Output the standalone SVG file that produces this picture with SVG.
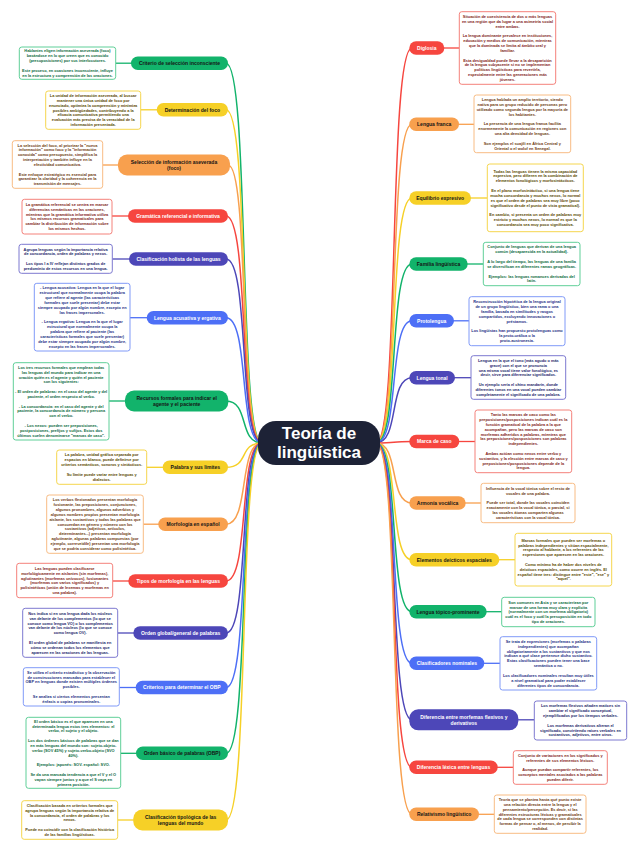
<svg xmlns="http://www.w3.org/2000/svg" width="638" height="848" viewBox="0 0 638 848">
<style>
.t{font-family:"Liberation Sans",Arial,sans-serif;font-weight:bold;text-anchor:middle}
.d{font-size:3.9px}
.n{font-size:5px}
.bx{fill:#fff;stroke-width:1}
.c{fill:none;stroke-width:1.5}
.l{fill:none;stroke-width:1.3}
.gF{fill:#12b36b}.gS{stroke:#12b36b}.gB{stroke:#5fcf98}.gT{fill:#0c6a3e}
.yF{fill:#f6d027}.yS{stroke:#f6d027}.yB{stroke:#f5d64e}.yT{fill:#5a4800}
.oF{fill:#f8a04e}.oS{stroke:#f8a04e}.oB{stroke:#f8bc84}.oT{fill:#6e3a10}
.rF{fill:#f6463f}.rS{stroke:#f6463f}.rB{stroke:#f4817b}.rT{fill:#821d18}
.iF{fill:#4d47b8}.iS{stroke:#4d47b8}.iB{stroke:#7d79d0}.iT{fill:#231f6b}
.bF{fill:#4d6ff6}.bS{stroke:#4d6ff6}.bB{stroke:#809af8}.bT{fill:#1d2f85}
.dk{fill:#151515}.wh{fill:#fff}
</style>
<rect width="638" height="848" fill="#fff"/>
<g id="connectors">
<path class="c gS" d="M226,63.2 C250,63.2 238,443 262,443"/>
<path class="c yS" d="M226,109.8 C250,109.8 238,443 262,443"/>
<path class="c oS" d="M228,165 C250,165 238,443 262,443"/>
<path class="c rS" d="M226,216 C250,216 238,443 262,443"/>
<path class="c iS" d="M226,259 C250,259 238,443 262,443"/>
<path class="c bS" d="M226,317.7 C250,317.7 238,443 262,443"/>
<path class="c gS" d="M226,401 C250,401 238,443 262,443"/>
<path class="c yS" d="M226,467.3 C250,467.3 238,443 262,443"/>
<path class="c oS" d="M226,524.2 C250,524.2 238,443 262,443"/>
<path class="c rS" d="M226,581 C250,581 238,443 262,443"/>
<path class="c iS" d="M226,633 C250,633 238,443 262,443"/>
<path class="c bS" d="M226,687.5 C250,687.5 238,443 262,443"/>
<path class="c gS" d="M226,753.3 C250,753.3 238,443 262,443"/>
<path class="c yS" d="M226,820 C250,820 238,443 262,443"/>
<path class="c rS" d="M376,443 C400,443 388,48 412,48"/>
<path class="c oS" d="M376,443 C400,443 388,124.3 412,124.3"/>
<path class="c yS" d="M376,443 C400,443 388,198 412,198"/>
<path class="c gS" d="M376,443 C400,443 388,264 412,264"/>
<path class="c bS" d="M376,443 C400,443 388,320.8 412,320.8"/>
<path class="c iS" d="M376,443 C400,443 388,377.7 412,377.7"/>
<path class="c rS" d="M376,443 C400,443 388,441.5 412,441.5"/>
<path class="c oS" d="M376,443 C400,443 388,503 412,503"/>
<path class="c yS" d="M376,443 C400,443 388,559.7 412,559.7"/>
<path class="c gS" d="M376,443 C400,443 388,611.7 412,611.7"/>
<path class="c bS" d="M376,443 C400,443 388,663.3 412,663.3"/>
<path class="c iS" d="M376,443 C400,443 388,719.8 412,719.8"/>
<path class="c rS" d="M376,443 C400,443 388,767.3 412,767.3"/>
<path class="c oS" d="M376,443 C400,443 388,814.3 412,814.3"/>
<path class="l gS" d="M115.7,63.2 H132"/>
<path class="l yS" d="M140.7,109.8 H158"/>
<path class="l oS" d="M102.7,165 H119"/>
<path class="l rS" d="M112,216 H129"/>
<path class="l iS" d="M112.3,259 H130"/>
<path class="l bS" d="M130,317.7 H148"/>
<path class="l gS" d="M109,401 H126"/>
<path class="l yS" d="M146.7,467.3 H164"/>
<path class="l oS" d="M143.3,524.2 H159"/>
<path class="l rS" d="M112.7,581 H129"/>
<path class="l iS" d="M117.7,633 H134"/>
<path class="l bS" d="M119.3,687.5 H137"/>
<path class="l gS" d="M120.7,753.3 H137"/>
<path class="l yS" d="M117.7,820 H134"/>
<path class="l rS" d="M443,48 H459.3"/>
<path class="l oS" d="M458,124.3 H474"/>
<path class="l yS" d="M470,198 H487.3"/>
<path class="l gS" d="M466,264 H483.3"/>
<path class="l bS" d="M453,320.8 H469"/>
<path class="l iS" d="M454,377.7 H471"/>
<path class="l rS" d="M458,441.5 H475"/>
<path class="l oS" d="M464,503 H481"/>
<path class="l yS" d="M498,559.7 H515"/>
<path class="l gS" d="M485,611.7 H501.7"/>
<path class="l bS" d="M483,663.3 H500"/>
<path class="l iS" d="M517,719.8 H534.3"/>
<path class="l rS" d="M496,767.3 H513.3"/>
<path class="l oS" d="M478,814.3 H494.3"/>
</g>
<g id="center">
<rect x="258" y="421" width="122" height="44" rx="18" fill="#1d2236"/>
<text class="t wh" x="319" y="439" font-size="17">Teoría de</text>
<text class="t wh" x="319" y="458" font-size="17">lingüística</text>
</g>
<g id="n-criterio-seleccion">
<rect class="gF" x="131" y="56.5" width="97" height="13.5" rx="6.75"/>
<text class="t n dk" x="179.5" y="65">Criterio de selección inconsciente</text>
</g>
<g id="d-criterio-seleccion">
<rect class="bx gB" x="19.3" y="47" width="96.4" height="32.3" rx="2.5"/>
<text class="t d gT" x="67.5" y="52.4"><tspan x="67.5">Hablantes eligen información aseverada (foco)</tspan><tspan x="67.5" dy="4.85">basándose en lo que creen que es conocido</tspan><tspan x="67.5" dy="4.85">(presuposiciones) por sus interlocutores.</tspan><tspan x="67.5" dy="9.7">Este proceso, en ocasiones inconsciente, influye</tspan><tspan x="67.5" dy="4.85">en la estructura y comprensión de las oraciones.</tspan></text>
</g>
<g id="n-determinacion-foco">
<rect class="yF" x="156.7" y="103" width="71.3" height="13.5" rx="6.75"/>
<text class="t n dk" x="192.35" y="111.6">Determinación del foco</text>
</g>
<g id="d-determinacion-foco">
<rect class="bx yB" x="45.7" y="91" width="95" height="38.3" rx="2.5"/>
<text class="t d yT" x="93.2" y="97"><tspan x="93.2">La unidad de información aseverada, al buscar</tspan><tspan x="93.2" dy="4.85">mantener una única unidad de foco por</tspan><tspan x="93.2" dy="4.85">enunciado, optimiza la comprensión y minimiza</tspan><tspan x="93.2" dy="4.85">posibles ambigüedades, contribuyendo a la</tspan><tspan x="93.2" dy="4.85">eficacia comunicativa permitiendo una</tspan><tspan x="93.2" dy="4.85">evaluación más precisa de la veracidad de la</tspan><tspan x="93.2" dy="4.85">información presentada.</tspan></text>
</g>
<g id="n-seleccion-informacion">
<rect class="oF" x="118" y="154.5" width="112" height="21" rx="9"/>
<text class="t n dk" x="174" y="163.8">Selección de información aseverada</text>
<text class="t n dk" x="174" y="169.8">(foco)</text>
</g>
<g id="d-seleccion-informacion">
<rect class="bx oB" x="12.3" y="140.7" width="90.4" height="47.6" rx="2.5"/>
<text class="t d oT" x="57.5" y="146.5"><tspan x="57.5">La selección del foco, al priorizar la "nueva</tspan><tspan x="57.5" dy="4.85">información" como foco y la "información</tspan><tspan x="57.5" dy="4.85">conocida" como presupuesto, simplifica la</tspan><tspan x="57.5" dy="4.85">interpretación y también influye en la</tspan><tspan x="57.5" dy="4.85">efectividad comunicativa.</tspan><tspan x="57.5" dy="9.7">Este enfoque estratégico es esencial para</tspan><tspan x="57.5" dy="4.85">garantizar la claridad y la coherencia en la</tspan><tspan x="57.5" dy="4.85">transmisión de mensajes.</tspan></text>
</g>
<g id="n-gramatica">
<rect class="rF" x="128" y="209.3" width="100" height="13.5" rx="6.75"/>
<text class="t n wh" x="178" y="217.8">Gramática referencial e informativa</text>
</g>
<g id="d-gramatica">
<rect class="bx rB" x="22" y="199.3" width="90" height="34.7" rx="2.5"/>
<text class="t d rT" x="67" y="205.9"><tspan x="67">La gramática referencial se centra en marcar</tspan><tspan x="67" dy="4.85">diferencias semánticas en las oraciones,</tspan><tspan x="67" dy="4.85">mientras que la gramática informativa utiliza</tspan><tspan x="67" dy="4.85">los mismos recursos gramaticales para</tspan><tspan x="67" dy="4.85">cambiar la distribución de información sobre</tspan><tspan x="67" dy="4.85">los mismos hechos.</tspan></text>
</g>
<g id="n-clasificacion-holista">
<rect class="iF" x="129" y="252.3" width="99" height="13.5" rx="6.75"/>
<text class="t n wh" x="178.5" y="260.8">Clasificación holista de las lenguas</text>
</g>
<g id="d-clasificacion-holista">
<rect class="bx iB" x="19" y="244.3" width="93.3" height="29" rx="2.5"/>
<text class="t d iT" x="65.65" y="250.5"><tspan x="65.65">Agrupa lenguas según la importancia relativa</tspan><tspan x="65.65" dy="4.85">de concordancia, orden de palabras y nexos.</tspan><tspan x="65.65" dy="9.7">Los tipos I a IV reflejan distintos grados de</tspan><tspan x="65.65" dy="4.85">predominio de estos recursos en una lengua.</tspan></text>
</g>
<g id="n-acusativa-ergativa">
<rect class="bF" x="146.7" y="311" width="81.3" height="13.5" rx="6.75"/>
<text class="t n wh" x="187.35" y="319.5">Lengua acusativa y ergativa</text>
</g>
<g id="d-acusativa-ergativa">
<rect class="bx bB" x="34.3" y="283.3" width="95.7" height="67.7" rx="2.5"/>
<text class="t d bT" x="82.15" y="289.45"><tspan x="82.15">- Lengua acusativa: Lengua en la que el lugar</tspan><tspan x="82.15" dy="4.85">estructural que normalmente ocupa la palabra</tspan><tspan x="82.15" dy="4.85">que refiere al agente (las características</tspan><tspan x="82.15" dy="4.85">formales que suele presentar) debe estar</tspan><tspan x="82.15" dy="4.85">siempre ocupado por algún nombre, excepto en</tspan><tspan x="82.15" dy="4.85">las frases impersonales.</tspan><tspan x="82.15" dy="9.7">- Lengua ergativa: Lengua en la que el lugar</tspan><tspan x="82.15" dy="4.85">estructural que normalmente ocupa la</tspan><tspan x="82.15" dy="4.85">palabra que refiere al paciente (las</tspan><tspan x="82.15" dy="4.85">características formales que suele presentar)</tspan><tspan x="82.15" dy="4.85">debe estar siempre ocupado por algún nombre,</tspan><tspan x="82.15" dy="4.85">excepto en las frases impersonales.</tspan></text>
</g>
<g id="n-recursos-formales">
<rect class="gF" x="125" y="390.5" width="103.3" height="21" rx="9"/>
<text class="t n dk" x="176.65" y="399.8">Recursos formales para indicar el</text>
<text class="t n dk" x="176.65" y="405.8">agente y el paciente</text>
</g>
<g id="d-recursos-formales">
<rect class="bx gB" x="13.3" y="362.7" width="95.7" height="77.3" rx="2.5"/>
<text class="t d gT" x="61.15" y="368.8"><tspan x="61.15">Los tres recursos formales que emplean todas</tspan><tspan x="61.15" dy="4.85">las lenguas del mundo para indicar en una</tspan><tspan x="61.15" dy="4.85">oración quién es el agente y quién el paciente</tspan><tspan x="61.15" dy="4.85">son los siguientes:</tspan><tspan x="61.15" dy="9.7">- El orden de palabras: en el caso del agente y del</tspan><tspan x="61.15" dy="4.85">paciente, el orden respecto al verbo.</tspan><tspan x="61.15" dy="9.7">- La concordancia: en el caso del agente y del</tspan><tspan x="61.15" dy="4.85">paciente, la concordancia de número y persona</tspan><tspan x="61.15" dy="4.85">con el verbo.</tspan><tspan x="61.15" dy="9.7">- Los nexos: pueden ser preposiciones,</tspan><tspan x="61.15" dy="4.85">postposiciones, prefijos y sufijos. Estos dos</tspan><tspan x="61.15" dy="4.85">últimos suelen denominarse "marcas de caso".</tspan></text>
</g>
<g id="n-palabra-limites">
<rect class="yF" x="162.7" y="460.5" width="65.3" height="13.5" rx="6.75"/>
<text class="t n dk" x="195.35" y="469.1">Palabra y sus límites</text>
</g>
<g id="d-palabra-limites">
<rect class="bx yB" x="56.7" y="450" width="90" height="34.3" rx="2.5"/>
<text class="t d yT" x="101.7" y="456.4"><tspan x="101.7">La palabra, unidad gráfica separada por</tspan><tspan x="101.7" dy="4.85">espacios en blanco, puede definirse por</tspan><tspan x="101.7" dy="4.85">criterios semánticos, sonoros y sintácticos.</tspan><tspan x="101.7" dy="9.7">Su límite puede variar entre lenguas y</tspan><tspan x="101.7" dy="4.85">dialectos.</tspan></text>
</g>
<g id="n-morfologia-espanol">
<rect class="oF" x="158.3" y="517.5" width="69.7" height="13.5" rx="6.75"/>
<text class="t n dk" x="193.15" y="526">Morfología en español</text>
</g>
<g id="d-morfologia-espanol">
<rect class="bx oB" x="46.7" y="495" width="96.6" height="58.3" rx="2.5"/>
<text class="t d oT" x="95" y="501.3"><tspan x="95">Los verbos flexionados presentan morfología</tspan><tspan x="95" dy="4.85">fusionante, las preposiciones, conjunciones,</tspan><tspan x="95" dy="4.85">algunos pronombres, algunos adverbios y</tspan><tspan x="95" dy="4.85">algunos nombres propios presentan morfología</tspan><tspan x="95" dy="4.85">aislante, los sustantivos y todas las palabras que</tspan><tspan x="95" dy="4.85">concuerdan en género y número con los</tspan><tspan x="95" dy="4.85">sustantivos (adjetivos, artículos,</tspan><tspan x="95" dy="4.85">determinantes...) presentan morfología</tspan><tspan x="95" dy="4.85">aglutinante, algunas palabras compuestas (por</tspan><tspan x="95" dy="4.85">ejemplo, correveidile) presentan una morfología</tspan><tspan x="95" dy="4.85">que se podría considerar como polisintética.</tspan></text>
</g>
<g id="n-tipos-morfologia">
<rect class="rF" x="128.3" y="574.3" width="99.7" height="13.5" rx="6.75"/>
<text class="t n wh" x="178.15" y="582.8">Tipos de morfología en las lenguas</text>
</g>
<g id="d-tipos-morfologia">
<rect class="bx rB" x="16.7" y="563.3" width="96" height="34.4" rx="2.5"/>
<text class="t d rT" x="64.7" y="569.8"><tspan x="64.7">Las lenguas pueden clasificarse</tspan><tspan x="64.7" dy="4.85">morfológicamente en aislantes (sin morfemas),</tspan><tspan x="64.7" dy="4.85">aglutinantes (morfemas unívocos), fusionantes</tspan><tspan x="64.7" dy="4.85">(morfemas con varios significados) y</tspan><tspan x="64.7" dy="4.85">polisintéticas (unión de lexemas y morfemas en</tspan><tspan x="64.7" dy="4.85">una palabra).</tspan></text>
</g>
<g id="n-orden-global">
<rect class="iF" x="133.3" y="626.3" width="94.7" height="13.5" rx="6.75"/>
<text class="t n wh" x="180.65" y="634.8">Orden global/general de palabras</text>
</g>
<g id="d-orden-global">
<rect class="bx iB" x="22.7" y="608.3" width="95" height="49" rx="2.5"/>
<text class="t d iT" x="70.2" y="614.8"><tspan x="70.2">Nos indica si en una lengua dada los núcleos</tspan><tspan x="70.2" dy="4.85">van delante de los complementos (lo que se</tspan><tspan x="70.2" dy="4.85">conoce como lengua VO) o los complementos</tspan><tspan x="70.2" dy="4.85">van delante de los núcleos (lo que se conoce</tspan><tspan x="70.2" dy="4.85">como lengua OV).</tspan><tspan x="70.2" dy="9.7">El orden global de palabras se manifiesta en</tspan><tspan x="70.2" dy="4.85">cómo se ordenan todos los elementos que</tspan><tspan x="70.2" dy="4.85">aparecen en las oraciones de las lenguas.</tspan></text>
</g>
<g id="n-criterios-obp">
<rect class="bF" x="135.7" y="680.8" width="92.3" height="13.5" rx="6.75"/>
<text class="t n wh" x="181.85" y="689.3">Criterios para determinar el OBP</text>
</g>
<g id="d-criterios-obp">
<rect class="bx bB" x="23.3" y="667.7" width="96" height="38.3" rx="2.5"/>
<text class="t d bT" x="71.3" y="673.7"><tspan x="71.3">Se utiliza el criterio estadístico y la observación</tspan><tspan x="71.3" dy="4.85">de construcciones marcadas para establecer el</tspan><tspan x="71.3" dy="4.85">OBP en lenguas donde existen múltiples órdenes</tspan><tspan x="71.3" dy="4.85">posibles.</tspan><tspan x="71.3" dy="9.7">Se analiza si ciertos elementos presentan</tspan><tspan x="71.3" dy="4.85">énfasis o copias pronominales.</tspan></text>
</g>
<g id="n-orden-basico">
<rect class="gF" x="136" y="746.5" width="92" height="13.5" rx="6.75"/>
<text class="t n dk" x="182" y="755.1">Orden básico de palabras (OBP)</text>
</g>
<g id="d-orden-basico">
<rect class="bx gB" x="26" y="717.3" width="94.7" height="71" rx="2.5"/>
<text class="t d gT" x="73.35" y="722.7"><tspan x="73.35">El orden básico es el que aparecen en una</tspan><tspan x="73.35" dy="4.85">determinada lengua estos tres elementos: el</tspan><tspan x="73.35" dy="4.85">verbo, el sujeto y el objeto.</tspan><tspan x="73.35" dy="9.7">Los dos órdenes básicos de palabras que se dan</tspan><tspan x="73.35" dy="4.85">en más lenguas del mundo son: sujeto-objeto-</tspan><tspan x="73.35" dy="4.85">verbo (SOV 45%) y sujeto-verbo-objeto (SVO</tspan><tspan x="73.35" dy="4.85">40%).</tspan><tspan x="73.35" dy="9.7">Ejemplos: japonés: SOV. español: SVO.</tspan><tspan x="73.35" dy="9.7">Se da una marcada tendencia a que el V y el O</tspan><tspan x="73.35" dy="4.85">vayan siempre juntos y a que el S vaya en</tspan><tspan x="73.35" dy="4.85">primera posición.</tspan></text>
</g>
<g id="n-clasificacion-tipologica">
<rect class="yF" x="133.3" y="809.5" width="94.7" height="21" rx="9"/>
<text class="t n dk" x="180.65" y="818.8">Clasificación tipológica de las</text>
<text class="t n dk" x="180.65" y="824.8">lenguas del mundo</text>
</g>
<g id="d-clasificacion-tipologica">
<rect class="bx yB" x="21.7" y="800.7" width="96" height="38.6" rx="2.5"/>
<text class="t d yT" x="69.7" y="806.85"><tspan x="69.7">Clasificación basada en criterios formales que</tspan><tspan x="69.7" dy="4.85">agrupa lenguas según la importancia relativa de</tspan><tspan x="69.7" dy="4.85">la concordancia, el orden de palabras y los</tspan><tspan x="69.7" dy="4.85">nexos.</tspan><tspan x="69.7" dy="9.7">Puede no coincidir con la clasificación histórica</tspan><tspan x="69.7" dy="4.85">de las familias lingüísticas.</tspan></text>
</g>
<g id="n-diglosia">
<rect class="rF" x="409.3" y="41.2" width="35" height="13.5" rx="6.75"/>
<text class="t n wh" x="426.8" y="49.8">Diglosia</text>
</g>
<g id="d-diglosia">
<rect class="bx rB" x="459.3" y="11.7" width="96.4" height="72.6" rx="2.5"/>
<text class="t d rT" x="507.5" y="17.9"><tspan x="507.5">Situación de coexistencia de dos o más lenguas</tspan><tspan x="507.5" dy="4.85">en una región que da lugar a una asimetría social</tspan><tspan x="507.5" dy="4.85">entre ambas.</tspan><tspan x="507.5" dy="9.7">La lengua dominante prevalece en instituciones,</tspan><tspan x="507.5" dy="4.85">educación y medios de comunicación, mientras</tspan><tspan x="507.5" dy="4.85">que la dominada se limita al ámbito oral y</tspan><tspan x="507.5" dy="4.85">familiar.</tspan><tspan x="507.5" dy="9.7">Esta desigualdad puede llevar a la desaparición</tspan><tspan x="507.5" dy="4.85">de la lengua subyacente si no se implementan</tspan><tspan x="507.5" dy="4.85">políticas lingüísticas para revertirla,</tspan><tspan x="507.5" dy="4.85">especialmente entre las generaciones más</tspan><tspan x="507.5" dy="4.85">jóvenes.</tspan></text>
</g>
<g id="n-lengua-franca">
<rect class="oF" x="409.3" y="117.5" width="49.7" height="13.5" rx="6.75"/>
<text class="t n dk" x="434.15" y="126.1">Lengua franca</text>
</g>
<g id="d-lengua-franca">
<rect class="bx oB" x="474" y="95" width="96.7" height="57.7" rx="2.5"/>
<text class="t d oT" x="522.35" y="101"><tspan x="522.35">Lengua hablada un amplio territorio, siendo</tspan><tspan x="522.35" dy="4.85">nativa para un grupo reducido de personas pero</tspan><tspan x="522.35" dy="4.85">utilizado como segunda lengua por la mayoría de</tspan><tspan x="522.35" dy="4.85">los habitantes.</tspan><tspan x="522.35" dy="9.7">La presencia de una lengua franca facilita</tspan><tspan x="522.35" dy="4.85">enormemente la comunicación en regiones con</tspan><tspan x="522.35" dy="4.85">una alta densidad de lenguas.</tspan><tspan x="522.35" dy="9.7">Son ejemplos el suajili en África Central y</tspan><tspan x="522.35" dy="4.85">Oriental o el wolof en Senegal.</tspan></text>
</g>
<g id="n-equilibrio">
<rect class="yF" x="409.3" y="191.2" width="61.7" height="13.5" rx="6.75"/>
<text class="t n dk" x="440.15" y="199.8">Equilibrio expresivo</text>
</g>
<g id="d-equilibrio">
<rect class="bx yB" x="487.3" y="164" width="96" height="67.7" rx="2.5"/>
<text class="t d yT" x="535.3" y="172.6"><tspan x="535.3">Todas las lenguas tienen la misma capacidad</tspan><tspan x="535.3" dy="4.85">expresiva, pero difieren en la combinación de</tspan><tspan x="535.3" dy="4.85">elementos fonológicos y morfosintácticos.</tspan><tspan x="535.3" dy="9.7">En el plano morfosintáctico, si una lengua tiene</tspan><tspan x="535.3" dy="4.85">mucha concordancia y muchos nexos, lo normal</tspan><tspan x="535.3" dy="4.85">es que el orden de palabras sea muy libre (poco</tspan><tspan x="535.3" dy="4.85">significativo desde el punto de vista gramatical).</tspan><tspan x="535.3" dy="9.7">En cambio, si presenta un orden de palabras muy</tspan><tspan x="535.3" dy="4.85">estricto y muchos nexos, lo normal es que la</tspan><tspan x="535.3" dy="4.85">concordancia sea muy poco significativa.</tspan></text>
</g>
<g id="n-familia">
<rect class="gF" x="409.3" y="257.2" width="58.4" height="13.5" rx="6.75"/>
<text class="t n dk" x="438.5" y="265.8">Familia lingüística</text>
</g>
<g id="d-familia">
<rect class="bx gB" x="483.3" y="242.3" width="96.7" height="43.4" rx="2.5"/>
<text class="t d gT" x="531.65" y="248.4"><tspan x="531.65">Conjunto de lenguas que derivan de una lengua</tspan><tspan x="531.65" dy="4.85">común (desaparecida en la actualidad).</tspan><tspan x="531.65" dy="9.7">A lo largo del tiempo, las lenguas de una familia</tspan><tspan x="531.65" dy="4.85">se diversifican en diferentes ramas geográficas.</tspan><tspan x="531.65" dy="9.7">Ejemplos: las lenguas romances derivadas del</tspan><tspan x="531.65" dy="4.85">latín.</tspan></text>
</g>
<g id="n-protolengua">
<rect class="bF" x="409.3" y="314" width="44.7" height="13.5" rx="6.75"/>
<text class="t n wh" x="431.65" y="322.6">Protolengua</text>
</g>
<g id="d-protolengua">
<rect class="bx bB" x="469" y="296.7" width="96" height="49" rx="2.5"/>
<text class="t d bT" x="517" y="303.2"><tspan x="517">Reconstrucción hipotética de la lengua original</tspan><tspan x="517" dy="4.85">de un grupo lingüístico, bien una rama o una</tspan><tspan x="517" dy="4.85">familia, basada en similitudes y rasgos</tspan><tspan x="517" dy="4.85">compartidos, excluyendo innovaciones o</tspan><tspan x="517" dy="4.85">préstamos.</tspan><tspan x="517" dy="9.7">Los lingüistas han propuesto protolenguas como</tspan><tspan x="517" dy="4.85">la proto-urálica o la</tspan><tspan x="517" dy="4.85">proto-austronesia.</tspan></text>
</g>
<g id="n-tonal">
<rect class="iF" x="409.3" y="371" width="45.7" height="13.5" rx="6.75"/>
<text class="t n wh" x="432.15" y="379.5">Lengua tonal</text>
</g>
<g id="d-tonal">
<rect class="bx iB" x="471" y="355.7" width="94.7" height="43.6" rx="2.5"/>
<text class="t d iT" x="518.35" y="361.9"><tspan x="518.35">Lengua en la que el tono (más agudo o más</tspan><tspan x="518.35" dy="4.85">grave) con el que se pronuncia</tspan><tspan x="518.35" dy="4.85">una misma vocal tiene valor fonológico, es</tspan><tspan x="518.35" dy="4.85">decir, sirve para diferenciar significados.</tspan><tspan x="518.35" dy="9.7">Un ejemplo sería el chino mandarín, donde</tspan><tspan x="518.35" dy="4.85">diferentes tonos en una vocal pueden cambiar</tspan><tspan x="518.35" dy="4.85">completamente el significado de una palabra.</tspan></text>
</g>
<g id="n-marca-caso">
<rect class="rF" x="409.3" y="434.7" width="50" height="13.5" rx="6.75"/>
<text class="t n wh" x="434.3" y="443.3">Marca de caso</text>
</g>
<g id="d-marca-caso">
<rect class="bx rB" x="475" y="410" width="96.7" height="62.7" rx="2.5"/>
<text class="t d rT" x="523.35" y="416.1"><tspan x="523.35">Tanto las marcas de caso como las</tspan><tspan x="523.35" dy="4.85">preposiciones/posposiciones indican cuál es la</tspan><tspan x="523.35" dy="4.85">función gramatical de la palabra a la que</tspan><tspan x="523.35" dy="4.85">acompañan, pero las marcas de caso son</tspan><tspan x="523.35" dy="4.85">morfemas adheridos a palabras, mientras que</tspan><tspan x="523.35" dy="4.85">las preposiciones/posposiciones son palabras</tspan><tspan x="523.35" dy="4.85">independientes.</tspan><tspan x="523.35" dy="9.7">Ambas actúan como nexos entre verbo y</tspan><tspan x="523.35" dy="4.85">sustantivo, y la elección entre marcas de caso y</tspan><tspan x="523.35" dy="4.85">preposiciones/posposiciones depende de la</tspan><tspan x="523.35" dy="4.85">lengua.</tspan></text>
</g>
<g id="n-armonia">
<rect class="oF" x="409.3" y="496.2" width="56.4" height="13.5" rx="6.75"/>
<text class="t n dk" x="437.5" y="504.8">Armonía vocálica</text>
</g>
<g id="d-armonia">
<rect class="bx oB" x="481" y="483.3" width="94" height="39.4" rx="2.5"/>
<text class="t d oT" x="528" y="489.85"><tspan x="528">Influencia de la vocal tónica sobre el resto de</tspan><tspan x="528" dy="4.85">vocales de una palabra.</tspan><tspan x="528" dy="9.7">Puede ser total, donde las vocales coinciden</tspan><tspan x="528" dy="4.85">exactamente con la vocal tónica, o parcial, si</tspan><tspan x="528" dy="4.85">las vocales átonas comparten algunas</tspan><tspan x="528" dy="4.85">características con la vocal tónica.</tspan></text>
</g>
<g id="n-deicticos">
<rect class="yF" x="409.3" y="553" width="90" height="13.5" rx="6.75"/>
<text class="t n dk" x="454.3" y="561.5">Elementos deícticos espaciales</text>
</g>
<g id="d-deicticos">
<rect class="bx yB" x="515" y="533.3" width="96.7" height="52.7" rx="2.5"/>
<text class="t d yT" x="563.35" y="541.65"><tspan x="563.35">Marcas formales que pueden ser morfemas o</tspan><tspan x="563.35" dy="4.85">palabras independientes y sitúan espacialmente,</tspan><tspan x="563.35" dy="4.85">respecto al hablante, a los referentes de las</tspan><tspan x="563.35" dy="4.85">expresiones que aparecen en las oraciones.</tspan><tspan x="563.35" dy="9.7">Como mínimo ha de haber dos niveles de</tspan><tspan x="563.35" dy="4.85">deícticos espaciales, como ocurre en inglés. El</tspan><tspan x="563.35" dy="4.85">español tiene tres: distingue entre "este", "ese" y</tspan><tspan x="563.35" dy="4.85">"aquel".</tspan></text>
</g>
<g id="n-topico">
<rect class="gF" x="409.3" y="605" width="77.4" height="13.5" rx="6.75"/>
<text class="t n dk" x="448" y="613.5">Lengua tópico-prominente</text>
</g>
<g id="d-topico">
<rect class="bx gB" x="501.7" y="597.3" width="93.3" height="29.4" rx="2.5"/>
<text class="t d gT" x="548.35" y="603.7"><tspan x="548.35">Son comunes en Asia y se caracterizan por</tspan><tspan x="548.35" dy="4.85">marcar de una forma muy clara y explícita</tspan><tspan x="548.35" dy="4.85">(normalmente con un morfema obligatorio)</tspan><tspan x="548.35" dy="4.85">cuál es el foco y cuál la presuposición en todo</tspan><tspan x="548.35" dy="4.85">tipo de oraciones.</tspan></text>
</g>
<g id="n-clasificadores">
<rect class="bF" x="409.3" y="656.5" width="75" height="13.5" rx="6.75"/>
<text class="t n wh" x="446.8" y="665.1">Clasificadores nominales</text>
</g>
<g id="d-clasificadores">
<rect class="bx bB" x="500" y="636.7" width="96.7" height="53.3" rx="2.5"/>
<text class="t d bT" x="548.35" y="642.9"><tspan x="548.35">Se trata de expresiones (morfemas o palabras</tspan><tspan x="548.35" dy="4.85">independientes) que acompañan</tspan><tspan x="548.35" dy="4.85">obligatoriamente a los sustantivos y que nos</tspan><tspan x="548.35" dy="4.85">indican a qué clase pertenece dicho sustantivo.</tspan><tspan x="548.35" dy="4.85">Estas clasificaciones pueden tener una base</tspan><tspan x="548.35" dy="4.85">semántica o no.</tspan><tspan x="548.35" dy="9.7">Los clasificadores nominales resultan muy útiles</tspan><tspan x="548.35" dy="4.85">a nivel gramatical para poder establecer</tspan><tspan x="548.35" dy="4.85">diferentes tipos de concordancia.</tspan></text>
</g>
<g id="n-morfemas">
<rect class="iF" x="409.3" y="709.3" width="109" height="21" rx="9"/>
<text class="t n wh" x="463.8" y="718.6">Diferencia entre morfemas flexivos y</text>
<text class="t n wh" x="463.8" y="724.6">derivativos</text>
</g>
<g id="d-morfemas">
<rect class="bx iB" x="534.3" y="701" width="92.4" height="39" rx="2.5"/>
<text class="t d iT" x="580.5" y="707.35"><tspan x="580.5">Los morfemas flexivos añaden matices sin</tspan><tspan x="580.5" dy="4.85">cambiar el significado conceptual,</tspan><tspan x="580.5" dy="4.85">ejemplificados por los tiempos verbales.</tspan><tspan x="580.5" dy="9.7">Los morfemas derivativos alteran el</tspan><tspan x="580.5" dy="4.85">significado, convirtiendo raíces verbales en</tspan><tspan x="580.5" dy="4.85">sustantivos, adjetivos, entre otros.</tspan></text>
</g>
<g id="n-lexica">
<rect class="rF" x="409.3" y="760.5" width="88.4" height="13.5" rx="6.75"/>
<text class="t n wh" x="453.5" y="769.1">Diferencia léxica entre lenguas</text>
</g>
<g id="d-lexica">
<rect class="bx rB" x="513.3" y="750.7" width="94" height="33.6" rx="2.5"/>
<text class="t d rT" x="560.3" y="756.8"><tspan x="560.3">Conjunto de variaciones en los significados y</tspan><tspan x="560.3" dy="4.85">referentes de sus elementos léxicos.</tspan><tspan x="560.3" dy="9.7">Aunque puedan compartir referentes, los</tspan><tspan x="560.3" dy="4.85">conceptos mentales asociados a las palabras</tspan><tspan x="560.3" dy="4.85">pueden diferir.</tspan></text>
</g>
<g id="n-relativismo">
<rect class="oF" x="409.3" y="807.5" width="69.7" height="13.5" rx="6.75"/>
<text class="t n dk" x="444.15" y="816.1">Relativismo lingüístico</text>
</g>
<g id="d-relativismo">
<rect class="bx oB" x="494.3" y="795" width="91.7" height="38.3" rx="2.5"/>
<text class="t d oT" x="540.15" y="801"><tspan x="540.15">Teoría que se plantea hasta qué punto existe</tspan><tspan x="540.15" dy="4.85">una relación directa entre la lengua y el</tspan><tspan x="540.15" dy="4.85">pensamiento/percepción. Es decir, si las</tspan><tspan x="540.15" dy="4.85">diferentes estructuras léxicas y gramaticales</tspan><tspan x="540.15" dy="4.85">de cada lengua se corresponden con distintas</tspan><tspan x="540.15" dy="4.85">formas de pensar o, al menos, de percibir la</tspan><tspan x="540.15" dy="4.85">realidad.</tspan></text>
</g>
</svg>
